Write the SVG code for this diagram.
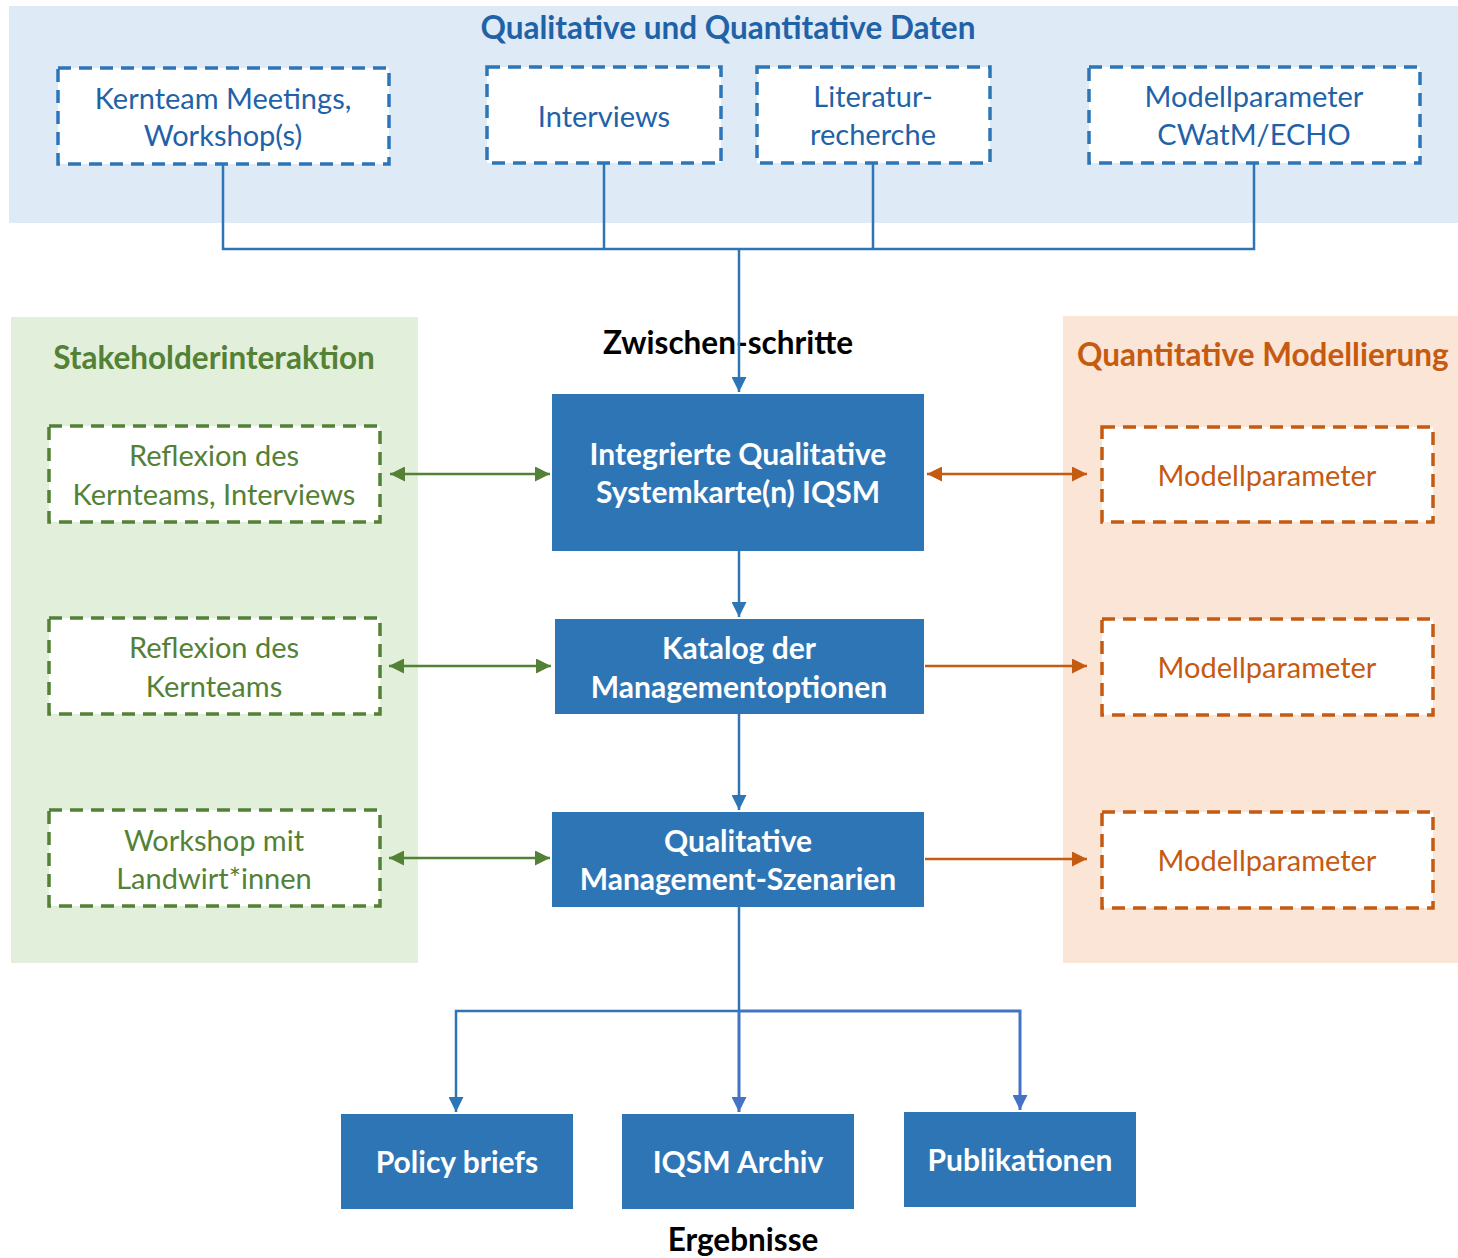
<svg xmlns="http://www.w3.org/2000/svg" width="1458" height="1258" viewBox="0 0 1458 1258">
<defs>
<style>
text{font-family:Lato,"Open Sans","Liberation Sans",sans-serif;text-anchor:middle}
.title{font-weight:bold;font-size:31.5px}
.bt{font-size:29px;fill:#1F62A8}
.gt{font-size:29px;fill:#538135}
.ot{font-size:29px;fill:#C55A11}
.wt{font-size:30px;fill:#fff;font-weight:bold}
.dashB{fill:#fff;stroke:#2E75B6;stroke-width:3.5;stroke-dasharray:13 8}
.dashG{fill:#fff;stroke:#538135;stroke-width:3.5;stroke-dasharray:13 8}
.dashO{fill:#fff;stroke:#C55A11;stroke-width:3.5;stroke-dasharray:13 8}
.solid{fill:#2E75B6}
.cb{fill:none;stroke:#2E75B6;stroke-width:2.5}
.cb2{fill:none;stroke:#4472C4;stroke-width:3}
.cg{fill:none;stroke:#538135;stroke-width:2.5}
.co{fill:none;stroke:#C55A11;stroke-width:2.5}
</style>
<marker id="ab" viewBox="0 0 10 10" refX="10" refY="5" markerWidth="6" markerHeight="6" orient="auto-start-reverse" markerUnits="strokeWidth"><path d="M0,0 L10,5 L0,10 z" fill="#2E75B6"/></marker>
<marker id="ab2" viewBox="0 0 10 10" refX="10" refY="5" markerWidth="5" markerHeight="5" orient="auto-start-reverse" markerUnits="strokeWidth"><path d="M0,0 L10,5 L0,10 z" fill="#4472C4"/></marker>
<marker id="ag" viewBox="0 0 10 10" refX="10" refY="5" markerWidth="6" markerHeight="6" orient="auto-start-reverse" markerUnits="strokeWidth"><path d="M0,0 L10,5 L0,10 z" fill="#538135"/></marker>
<marker id="ao" viewBox="0 0 10 10" refX="10" refY="5" markerWidth="6" markerHeight="6" orient="auto-start-reverse" markerUnits="strokeWidth"><path d="M0,0 L10,5 L0,10 z" fill="#C55A11"/></marker>
</defs>
<rect width="1458" height="1258" fill="#fff"/>
<g id="panels">
<rect x="9" y="6" width="1449" height="217" fill="#DEEAF6"/>
<rect x="11" y="317" width="407" height="646" fill="#E2EFDA"/>
<rect x="1063" y="316" width="395" height="647" fill="#FBE5D6"/>
<text x="728" y="39" class="title" fill="#1F62A8">Qualitative und Quantitative Daten</text>
<text x="214" y="369" class="title" fill="#538135">Stakeholderinteraktion</text>
<text x="1077" y="366" class="title" fill="#C55A11" style="text-anchor:start">Quantitative Modellierung</text>
<text x="728" y="354" class="title" fill="#000">Zwischen-schritte</text>
<text x="743" y="1251" class="title" fill="#000">Ergebnisse</text>
</g>
<g id="connectors">
<path class="cb" d="M223,164 V249 H1254 V163 M604,163 V249 M873,163 V249"/>
<path class="cb" d="M739,249 V392" marker-end="url(#ab)"/>
<path class="cb" d="M739,551 V617" marker-end="url(#ab)"/>
<path class="cb" d="M739,714 V810" marker-end="url(#ab)"/>
<path class="cb" d="M739,907 V1011 H456 V1112" marker-end="url(#ab)"/>
<path class="cb2" d="M739,1011 H1020 V1110" marker-end="url(#ab2)"/>
<path class="cb2" d="M739,1011 V1112" marker-end="url(#ab2)"/>
<path class="cg" d="M390,474 H550" marker-start="url(#ag)" marker-end="url(#ag)"/>
<path class="cg" d="M389,666 H551" marker-start="url(#ag)" marker-end="url(#ag)"/>
<path class="cg" d="M389,858 H550" marker-start="url(#ag)" marker-end="url(#ag)"/>
<path class="co" d="M927,474 H1087" marker-start="url(#ao)" marker-end="url(#ao)"/>
<path class="co" d="M925,666 H1087" marker-end="url(#ao)"/>
<path class="co" d="M925,859 H1087" marker-end="url(#ao)"/>
</g>
<g id="n-kernteam"><rect class="dashB" x="58" y="68" width="331" height="96"/><text class="bt" x="223" y="109">Kernteam Meetings,</text><text class="bt" x="223" y="146">Workshop(s)</text></g>
<g id="n-interviews"><rect class="dashB" x="487" y="67" width="234" height="96"/><text class="bt" x="604" y="127">Interviews</text></g>
<g id="n-literatur"><rect class="dashB" x="757" y="67" width="233" height="96"/><text class="bt" x="873" y="107">Literatur-</text><text class="bt" x="873" y="145">recherche</text></g>
<g id="n-modellcwatm"><rect class="dashB" x="1089" y="67" width="331" height="96"/><text class="bt" x="1254" y="107">Modellparameter</text><text class="bt" x="1254" y="145">CWatM/ECHO</text></g>
<g id="n-reflex1"><rect class="dashG" x="49" y="426" width="331" height="96"/><text class="gt" x="214" y="466">Reflexion des</text><text class="gt" x="214" y="505">Kernteams, Interviews</text></g>
<g id="n-reflex2"><rect class="dashG" x="49" y="618" width="331" height="96"/><text class="gt" x="214" y="658">Reflexion des</text><text class="gt" x="214" y="697">Kernteams</text></g>
<g id="n-workshop"><rect class="dashG" x="49" y="810" width="331" height="96"/><text class="gt" x="214" y="851">Workshop mit</text><text class="gt" x="214" y="889">Landwirt*innen</text></g>
<g id="n-mp1"><rect class="dashO" x="1102" y="427" width="331" height="95"/><text class="ot" x="1267" y="486">Modellparameter</text></g>
<g id="n-mp2"><rect class="dashO" x="1102" y="619" width="331" height="96"/><text class="ot" x="1267" y="678">Modellparameter</text></g>
<g id="n-mp3"><rect class="dashO" x="1102" y="812" width="331" height="96"/><text class="ot" x="1267" y="871">Modellparameter</text></g>
<g id="n-iqsm"><rect class="solid" x="552" y="394" width="372" height="157"/><text class="wt" x="738" y="465">Integrierte Qualitative</text><text class="wt" x="738" y="503">Systemkarte(n) IQSM</text></g>
<g id="n-katalog"><rect class="solid" x="555" y="619" width="369" height="95"/><text class="wt" x="739" y="659">Katalog der</text><text class="wt" x="739" y="698">Managementoptionen</text></g>
<g id="n-szenarien"><rect class="solid" x="552" y="812" width="372" height="95"/><text class="wt" x="738" y="852">Qualitative</text><text class="wt" x="738" y="890">Management-Szenarien</text></g>
<g id="n-policy"><rect class="solid" x="341" y="1114" width="232" height="95"/><text class="wt" x="457" y="1173">Policy briefs</text></g>
<g id="n-archiv"><rect class="solid" x="622" y="1114" width="232" height="95"/><text class="wt" x="738" y="1173">IQSM Archiv</text></g>
<g id="n-publ"><rect class="solid" x="904" y="1112" width="232" height="95"/><text class="wt" x="1020" y="1171">Publikationen</text></g>
</svg>
